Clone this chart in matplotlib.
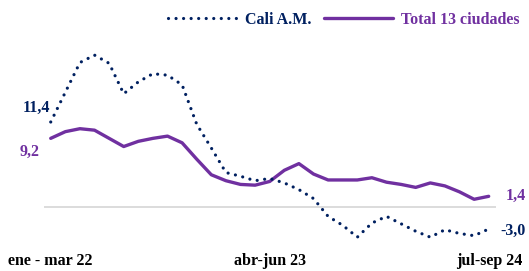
import matplotlib
matplotlib.use('Agg')
from matplotlib import pyplot as plt

# trimestres moviles, ene-mar 22 ... jul-sep 24 (31 periodos)
periodos = list(range(31))
etiquetas_x = ['ene - mar 22', 'abr-jun 23', 'jul-sep 24']
pos_etiquetas = [0, 15, 30]

cali = [11.4, 15.4, 19.4, 20.4, 19.3, 15.2, 16.8, 17.9, 17.7, 16.4,
        11.1, 7.9, 4.6, 4.1, 3.5, 3.8, 3.2, 2.3, 1.1, -1.3,
        -2.5, -4.1, -2.2, -1.3, -2.3, -3.3, -4.1, -3.1, -3.6, -3.9, -3.0]
total = [9.2, 10.1, 10.5, 10.3, 9.2, 8.1, 8.8, 9.2, 9.5, 8.6,
         6.4, 4.3, 3.5, 3.0, 2.9, 3.4, 4.9, 5.8, 4.4, 3.6,
         3.6, 3.6, 3.9, 3.3, 3.0, 2.6, 3.2, 2.8, 2.0, 1.0, 1.4]

AZUL = '#002060'
MORADO = '#7030A0'
FUENTE = 'Liberation Serif'
TAM = 11.5


def fmt(v):
    # coma decimal
    return f'{v:.1f}'.replace('.', ',')


def main():
    plt.rcParams['font.family'] = FUENTE
    plt.rcParams['font.weight'] = 'bold'

    fig = plt.figure(figsize=(5.29, 2.71), dpi=100)
    W, H = 529, 271
    # ejes en pixeles: x 44..496, y 21..251
    ax = fig.add_axes([44.3 / W, (H - 251.3) / H, (495.7 - 44.3) / W, (251.3 - 20.95) / H])

    ax.axhline(0, color='#D9D9D9', lw=1.3, zorder=1)
    ax.plot(periodos, cali, color=AZUL, lw=2.3, linestyle=(0, (0.01, 2.35)),
            dash_capstyle='round', label='Cali A.M.', zorder=3)
    ax.plot(periodos, total, color=MORADO, lw=2.4, solid_capstyle='round',
            solid_joinstyle='round', label='Total 13 ciudades', zorder=2)

    ax.set_xlim(-0.44, 30.48)
    ax.set_ylim(-6, 25)
    ax.set_yticks([])
    ax.set_xticks(pos_etiquetas)
    ax.set_xticklabels(etiquetas_x, fontsize=TAM, fontweight='bold')
    ax.tick_params(axis='x', length=0, pad=1.5)
    for s in ax.spines.values():
        s.set_visible(False)

    # etiquetas de inicio y fin
    ax.annotate(fmt(cali[0]), (periodos[0], cali[0]), xytext=(-0.7, 10),
                textcoords='offset points', ha='right', va='center',
                color=AZUL, fontsize=TAM, fontweight='bold')
    ax.annotate(fmt(total[0]), (periodos[0], total[0]), xytext=(-7.7, -9.5),
                textcoords='offset points', ha='right', va='center',
                color=MORADO, fontsize=TAM, fontweight='bold')
    ax.annotate(fmt(total[-1]), (periodos[-1], total[-1]), xytext=(12.2, 0),
                textcoords='offset points', ha='left', va='center',
                color=MORADO, fontsize=TAM, fontweight='bold')
    ax.annotate(fmt(cali[-1]), (periodos[-1], cali[-1]), xytext=(8.1, -1),
                textcoords='offset points', ha='left', va='center',
                color=AZUL, fontsize=TAM, fontweight='bold')

    leg = ax.legend(ncol=2, loc='center left', bbox_to_anchor=(168 / W, 1 - 20 / H),
                    bbox_transform=fig.transFigure, frameon=False,
                    prop={'family': FUENTE, 'weight': 'bold', 'size': TAM},
                    handlelength=4.3, handletextpad=0.5, columnspacing=0.8,
                    borderpad=0, borderaxespad=0)
    for txt, c in zip(leg.get_texts(), [AZUL, MORADO]):
        txt.set_color(c)

    fig.savefig('out.png', dpi=100)


if __name__ == '__main__':
    main()
